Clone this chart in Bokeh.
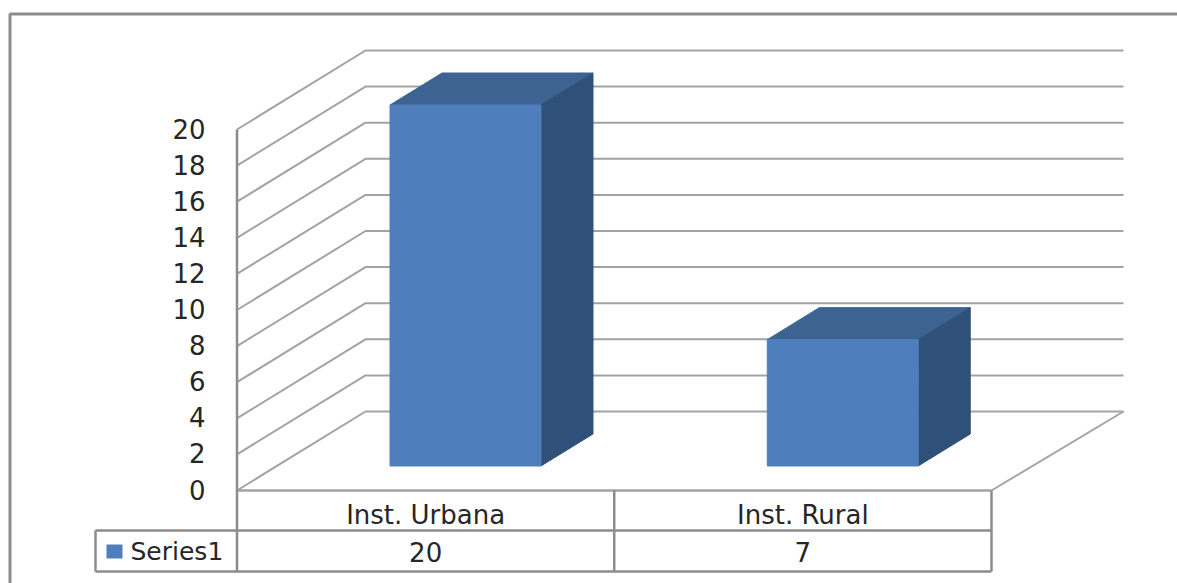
from bokeh.plotting import figure
from bokeh.embed import file_html
from bokeh.resources import INLINE
from bokeh.core.properties import value as bv
from bokeh.models import Range1d

categories = ["Inst. Urbana", "Inst. Rural"]
series_name = "Series1"
series_values = [20, 7]
tick_values = [0, 2, 4, 6, 8, 10, 12, 14, 16, 18, 20]

W, H = 1177, 583
OX, OY = 0, 0
X0, X_CAT = 236.5, 377.25
Y0, Y_UNIT = 490.0, 18.05
DEPTH_X, DEPTH_Y = 128.5 / X_CAT, 79.0 / Y_UNIT
GRID, FRAME, TXT = "#a3a3a3", "#8c8c8c", "#262626"
FONT = bv("DejaVu Sans")
FS = "26px"
FS_LEG = "25px"


def dx(px):
    return (px - X0) / X_CAT


def dy(px):
    return (Y0 - px) / Y_UNIT


p = figure(width=W, height=H, output_backend="svg", toolbar_location=None,
           x_range=Range1d(dx(OX), dx(OX + W)), y_range=Range1d(dy(OY + H), dy(OY)),
           min_border=0, background_fill_color="white", border_fill_color="white",
           outline_line_color=None)
p.xaxis.visible = False
p.yaxis.visible = False
p.xgrid.visible = False
p.ygrid.visible = False

# outer frame (runs off the page on the right and at the bottom)
p.line([dx(OX + W), dx(9.5), dx(9.5)], [dy(13.5), dy(13.5), dy(OY + H)], line_color=FRAME, line_width=3)

# walls
n = len(categories)
xs, ys = [], []
for t in tick_values:
    xs.append([0, DEPTH_X, dx(1123)])
    ys.append([t, t + DEPTH_Y, t + DEPTH_Y])
p.multi_line(xs, ys, line_color=GRID, line_width=2)
# floor's right edge and front edge
p.line([n, dx(1123)], [0, DEPTH_Y], line_color=GRID, line_width=2)

# bars
D1, D2 = 24.5 / 79.0, 56.5 / 79.0
BW = 0.4
front_x, front_y, side_x, side_y, top_x, top_y = [], [], [], [], [], []
for i, v in enumerate(series_values):
    l = i + 0.5 - BW / 2 + D1 * DEPTH_X
    r = l + BW
    b = D1 * DEPTH_Y
    t = b + v
    sx = (D2 - D1) * DEPTH_X
    sy = (D2 - D1) * DEPTH_Y
    front_x.append([l, r, r, l]); front_y.append([b, b, t, t])
    side_x.append([r, r + sx, r + sx, r]); side_y.append([b, b + sy, t + sy, t])
    top_x.append([l, r, r + sx, l + sx]); top_y.append([t, t, t + sy, t + sy])
p.patches(top_x, top_y, fill_color="#3c6391", line_color="#3c6391", line_width=1)
p.patches(side_x, side_y, fill_color="#2f5179", line_color="#2f5179", line_width=1)
p.patches(front_x, front_y, fill_color="#4e7fbc", line_color="#4e7fbc", line_width=1)

# data table
ROW1, ROW2 = dy(530), dy(571)
LEG = dx(95)
p.line([0, n], [0, 0], line_color=GRID, line_width=2.5)
p.line([0, 0], [20, ROW2], line_color=FRAME, line_width=2.5)
p.multi_line([[i, i] for i in range(1, n + 1)], [[0, ROW2]] * n, line_color=FRAME, line_width=2.5)
p.line([LEG, n], [ROW1, ROW1], line_color=FRAME, line_width=2.5)
p.line([LEG, n], [ROW2, ROW2], line_color=FRAME, line_width=2.5)
p.line([LEG, LEG], [ROW1, ROW2], line_color=FRAME, line_width=2.5)
p.patches([[dx(106), dx(122), dx(122), dx(106)]], [[dy(544), dy(544), dy(558), dy(558)]],
          fill_color="#4e7fbc", line_color=None)

# texts
TICK_NUDGE = 1.0 / Y_UNIT
p.text([dx(205)] * len(tick_values), [t + TICK_NUDGE for t in tick_values], text=[str(t) for t in tick_values],
       text_font=FONT, text_font_size=FS, text_color=TXT, text_align="right", text_baseline="middle")
cx = [i + 0.5 for i in range(n)]
p.text(cx, [dy(514)] * n, text=categories, text_font=FONT, text_font_size=FS, text_color=TXT,
       text_align="center", text_baseline="middle")
p.text(cx, [dy(551)] * n, text=[str(v) for v in series_values], text_font=FONT, text_font_size=FS,
       text_color=TXT, text_align="center", text_baseline="middle")
p.text([dx(130)], [dy(551)], text=[series_name], text_font=FONT, text_font_size=FS_LEG, text_color=TXT,
       text_align="left", text_baseline="middle")

open("out.html", "w").write(file_html(p, INLINE))
